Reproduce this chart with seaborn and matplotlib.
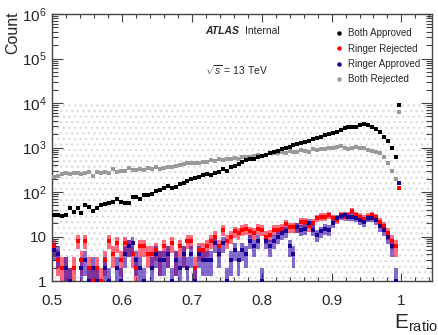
import numpy as np
import pandas as pd
import matplotlib
matplotlib.use('Agg')
import matplotlib.pyplot as plt
from matplotlib.lines import Line2D
from matplotlib.ticker import FixedLocator, FixedFormatter, LogLocator, NullFormatter
import seaborn as sns

# counts per bin of E_ratio
both_approved = [30, 30, 29, 30, 43, 36, 43, 33, 51, 47, 38, 43, 51, 54, 56, 60, 69, 60, 56, 58,
                 78, 78, 71, 86, 88, 90, 107, 110, 121, 136, 124, 128, 151,
                 162, 179, 192, 203, 214, 241, 253, 241, 272, 287, 324, 301, 370, 390, 427, 473,
                 524, 543, 552, 600, 646, 690, 743, 780, 850, 910, 960, 1040, 1140, 1180, 1290,
                 1310, 1400, 1520, 1650, 1750, 1880, 2010, 2130, 2290, 2450, 2700, 2850, 2930,
                 2930, 3150, 3380, 3150, 2930, 2660, 2270, 1750, 1420, 960, 620, 9150]
both_rejected = [214, 229, 253, 272, 253, 272, 262, 253, 262, 287, 229, 287, 272, 287, 272, 324,
                 287, 290, 301, 346, 311, 311, 324, 311, 346, 324, 357, 335, 346, 370, 370, 383, 397,
                 427, 442, 458, 442, 458, 480, 480, 524, 505, 543, 524, 562, 543, 582, 543, 600,
                 620, 600, 646, 675, 646, 690, 743, 765, 743, 800, 765, 850, 800, 800, 880,
                 850, 800, 910, 880, 910, 930, 960, 1000, 1040, 1080, 960, 910, 1000, 1040, 1000,
                 960, 880, 850, 800, 755, 600, 442, 301, 199, 6300]
ringer_rejected = [6, 3, 2, 2, 1, 2, 8, 3, 8, 2, 1, 2, 1, 3, 8, 4, 7, 3, 7, 6, 4, 2, 6, 6,
                   4, 4, 5, 3, 6, 4, 7, 3, 6, 4, 8, 8, 2, 5, 5, 6, 8, 10, 6, 14, 8,
                   10, 13, 12, 14, 15, 13, 12, 15, 14, 10, 11, 14, 14, 15, 19, 16, 16, 16, 21, 21,
                   17, 20, 26,
                   28, 28, 30, 26, 24, 30, 28, 31, 38, 31, 28, 25, 28, 30, 27, 21, 17, 12, 8, 6, 121]
ringer_approved = [5, 4, 0, 2, 1, 0, 0, 2, 3, 1, 2, 1, 0, 2, 1, 0, 2, 1, 4, 6, 7, 3, 2, 1,
                   0, 2, 4, 3, 3, 4, 1, 3, 2, 4, 2, 4, 1, 4, 3, 3, 3, 7, 4, 7, 1,
                   3, 5, 3, 5, 4, 8, 6, 8, 1, 8, 6, 8, 10, 12, 13, 6, 4, 16, 14, 15, 20, 14, 11,
                   13, 15, 14, 20, 26, 29, 30, 28, 28, 26, 23, 21, 26, 26, 23, 17, 14, 10, 6, 1, 162]

x_min, x_max = 0.5, 1.044
edges = np.linspace(0.5, 1.0, len(both_approved) + 1)
centers = 0.5 * (edges[:-1] + edges[1:])
width = edges[1] - edges[0]

df = pd.DataFrame({
    'E': centers,
    'Both Approved': both_approved,
    'Both Rejected': both_rejected,
    'Ringer Rejected': ringer_rejected,
    'Ringer Approved': ringer_approved,
})

sns.set_theme(style='ticks')
plt.rcParams['font.family'] = ['Liberation Sans', 'DejaVu Sans']
plt.rcParams['mathtext.fontset'] = 'custom'
plt.rcParams['mathtext.rm'] = 'Liberation Sans'
plt.rcParams['mathtext.it'] = 'Liberation Sans:italic'
plt.rcParams['mathtext.bf'] = 'Liberation Sans:bold'
plt.rcParams['hatch.linewidth'] = 0.9

fig = plt.figure(figsize=(4.39, 3.35), dpi=100)
ax = fig.add_axes([0.1185, 0.161, 0.866, 0.797])
ax.set_yscale('log')

# dotted background pattern up to 10^4
ax.fill_between([x_min, x_max], 1, 1e4, facecolor='none', edgecolor='#dadada',
                hatch='...', linewidth=0, zorder=0)


def error_boxes(col, color, alpha):
    v = df[col].to_numpy(dtype=float)
    m = v > 0
    err = np.sqrt(v[m])
    lo = np.clip(v[m] - err, 0.8, None)
    hi = v[m] + err
    ax.bar(df['E'][m], hi - lo, bottom=lo, width=width, color=color, alpha=alpha,
           linewidth=0, zorder=2)


error_boxes('Ringer Rejected', '#ff1030', 0.62)
error_boxes('Ringer Approved', '#3a10b0', 0.62)

styles = [
    ('Both Rejected', '#9a9a9a', 5),
    ('Both Approved', '#000000', 8),
    ('Ringer Rejected', '#ff0000', 6),
    ('Ringer Approved', '#1a0090', 6),
]
for col, c, s in styles:
    d = df[df[col] > 0]
    sns.scatterplot(data=d, x='E', y=col, marker='s', s=s, color=c, linewidth=0,
                    ax=ax, zorder=3, legend=False)

ax.set_xlim(x_min, x_max)
ax.set_ylim(1, 1e6)
ax.set_xlabel('')
ax.set_ylabel('')

# ROOT-like ticks
ax.xaxis.set_major_locator(FixedLocator([0.5, 0.6, 0.7, 0.8, 0.9, 1.0]))
ax.xaxis.set_major_formatter(FixedFormatter(['0.5', '0.6', '0.7', '0.8', '0.9', '1']))
ax.xaxis.set_minor_locator(FixedLocator(np.arange(0.5, 1.045, 0.02)))
ax.yaxis.set_major_locator(FixedLocator([1, 10, 1e2, 1e3, 1e4, 1e5, 1e6]))
ax.yaxis.set_major_formatter(FixedFormatter(['1', '10', r'$10^{2}$', r'$10^{3}$',
                                             r'$10^{4}$', r'$10^{5}$', r'$10^{6}$']))
ax.yaxis.set_minor_locator(LogLocator(base=10, subs=np.arange(2, 10), numticks=20))
ax.yaxis.set_minor_formatter(NullFormatter())
ax.tick_params(axis='both', which='both', direction='in', top=True, right=True,
               color='#444444', width=0.8)
ax.tick_params(axis='x', which='major', length=6, pad=9, labelsize=11)
ax.tick_params(axis='x', which='minor', length=3)
ax.tick_params(axis='y', which='major', length=8, pad=4, labelsize=11)
ax.tick_params(axis='y', which='minor', length=4)
for sp in ax.spines.values():
    sp.set_color('#444444')
    sp.set_linewidth(1.0)

# texts
ax.text(0.403, 0.935, 'ATLAS', transform=ax.transAxes, fontsize=7.5,
        fontweight='bold', fontstyle='italic', va='center', ha='left')
ax.text(0.508, 0.935, 'Internal', transform=ax.transAxes, fontsize=7.5,
        va='center', ha='left')
ax.text(0.403, 0.79, r'$\sqrt{s}$ = 13 TeV', transform=ax.transAxes, fontsize=7.5,
        va='center', ha='left')
fig.text(0.03, 0.965, 'Count', rotation=90, ha='center', va='top', fontsize=11.5)
fig.text(0.997, 0.003, r'$\mathregular{E_{ratio}}$', ha='right', va='bottom', fontsize=15)

handles = [Line2D([], [], marker='o', ls='', color=c, markersize=2.2)
           for c in ['#000000', '#ff0000', '#1a0090', '#9a9a9a']]
ax.legend(handles, ['Both Approved', 'Ringer Rejected', 'Ringer Approved', 'Both Rejected'],
          loc='upper left', bbox_to_anchor=(0.75, 0.93), bbox_transform=fig.transFigure,
          frameon=False, fontsize=7, handlelength=1.0, handletextpad=0.4,
          labelspacing=0.55, borderpad=0)

fig.savefig('out.png', dpi=100)
